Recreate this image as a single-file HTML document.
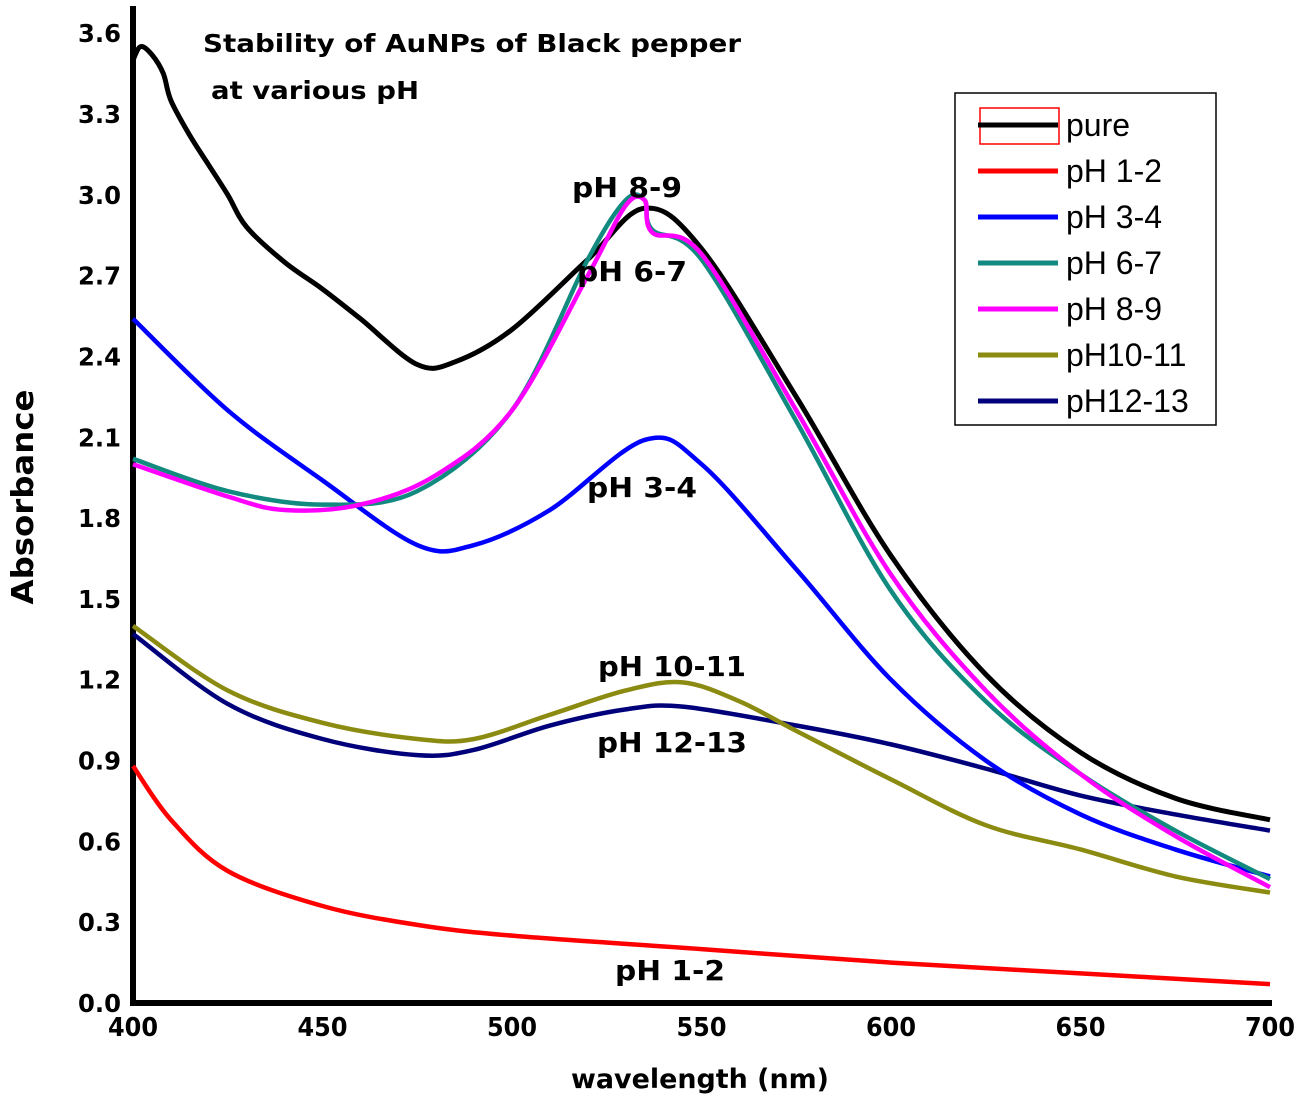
<!DOCTYPE html>
<html><head><meta charset="utf-8"><style>
body{margin:0;background:#fff;}
svg text{font-family:"DejaVu Sans","Liberation Sans",sans-serif;font-weight:bold;}
</style></head><body>
<svg id="chart" width="1300" height="1101" viewBox="0 0 1300 1101" xmlns="http://www.w3.org/2000/svg">
<g id="axes"></g><g id="series"></g><g id="ann"></g><g id="legend"></g>
</svg>
<script>
const xTicks=[400,450,500,550,600,650,700];
const yTicks=[0.0,0.3,0.6,0.9,1.2,1.5,1.8,2.1,2.4,2.7,3.0,3.3,3.6];
const seriesNames=["pure","pH 1-2","pH 3-4","pH 6-7","pH 8-9","pH10-11","pH12-13"];
const seriesColors=["#000000","#ff0000","#0000ff","#138a80","#ff00ff","#8b8b12","#00007a"];
const pureX=[400,402,405,408,410,415,420,425,430,440,450,460,475,485,500,520,535,550,575,600,625,650,675,700];
const pureY=[3.50,3.55,3.52,3.45,3.35,3.22,3.11,3.00,2.88,2.75,2.65,2.54,2.37,2.38,2.50,2.76,2.95,2.80,2.25,1.66,1.22,0.93,0.76,0.68];
const ph12X=[400,410,425,450,475,500,550,600,650,700];
const ph12Y=[0.88,0.68,0.49,0.36,0.29,0.25,0.20,0.15,0.11,0.07];
const ph34X=[400,425,450,475,490,510,535,550,575,600,625,650,675,700];
const ph34Y=[2.54,2.20,1.94,1.70,1.70,1.83,2.09,2.00,1.61,1.20,0.90,0.70,0.57,0.47];
const ph67X=[400,425,450,475,500,520,530,535,537,550,575,600,625,650,675,700];
const ph67Y=[2.02,1.90,1.85,1.90,2.20,2.76,2.98,2.98,2.87,2.76,2.16,1.53,1.12,0.85,0.64,0.46];
const ph89X=[400,425,440,460,480,500,520,530,535,537,550,575,600,625,650,675,700];
const ph89Y=[2.00,1.88,1.83,1.85,1.96,2.20,2.70,2.96,2.98,2.86,2.78,2.20,1.59,1.16,0.85,0.62,0.43];
const ph1011X=[400,425,450,475,490,510,530,545,560,575,600,625,650,675,700];
const ph1011Y=[1.40,1.16,1.04,0.98,0.98,1.07,1.16,1.19,1.12,1.01,0.83,0.66,0.57,0.47,0.41];
const ph1213X=[400,425,450,475,490,510,530,545,575,600,625,650,675,700];
const ph1213Y=[1.37,1.11,0.98,0.92,0.94,1.03,1.09,1.10,1.03,0.96,0.87,0.77,0.70,0.64];

const X0=133,X1=1270,Y0=1003;
const xs=v=>X0+(v-400)*(X1-X0)/300;
const ys=v=>Y0-v*269.4;
const NS="http://www.w3.org/2000/svg";
function mk(tag,attrs,parent){const e=document.createElementNS(NS,tag);for(const k in attrs)e.setAttribute(k,attrs[k]);parent.appendChild(e);return e;}
const axes=document.getElementById('axes');
let a=mk('path',{d:`M${X0} 6 L${X0} ${Y0} L1272 ${Y0}`,fill:'none',stroke:'#000','stroke-width':6},axes);


yTicks.forEach(v=>{const t=mk('text',{x:121,y:ys(v)+9,'text-anchor':'end','font-size':25,textLength:43,lengthAdjust:'spacingAndGlyphs'},axes);t.textContent=v.toFixed(1);

});
xTicks.forEach(v=>{const t=mk('text',{x:xs(v),y:1036,'text-anchor':'middle','font-size':26,textLength:50,lengthAdjust:'spacingAndGlyphs'},axes);t.textContent=v;

});
let t=mk('text',{x:700,y:1088,'text-anchor':'middle','font-size':27,textLength:258,lengthAdjust:'spacingAndGlyphs'},axes);t.textContent='wavelength (nm)';


t=mk('text',{x:0,y:0,'text-anchor':'middle','font-size':30,textLength:215,lengthAdjust:'spacingAndGlyphs',transform:'translate(33,497) rotate(-90)'},axes);t.textContent='Absorbance';


t=mk('text',{x:203,y:52,'font-size':25,textLength:538,lengthAdjust:'spacingAndGlyphs'},axes);t.textContent='Stability of AuNPs of Black pepper';


t=mk('text',{x:211,y:99,'font-size':25,textLength:208,lengthAdjust:'spacingAndGlyphs'},axes);t.textContent='at various pH';



function pathD(X,Y){const p=X.map((x,i)=>[xs(x),ys(Y[i])]);let d=`M${p[0][0]} ${p[0][1]}`;
for(let i=0;i<p.length-1;i++){const p0=p[Math.max(0,i-1)],p1=p[i],p2=p[i+1],p3=p[Math.min(p.length-1,i+2)];
const c1=[p1[0]+(p2[0]-p0[0])/6,p1[1]+(p2[1]-p0[1])/6],c2=[p2[0]-(p3[0]-p1[0])/6,p2[1]-(p3[1]-p1[1])/6];
d+=` C${c1[0]} ${c1[1]} ${c2[0]} ${c2[1]} ${p2[0]} ${p2[1]}`;}return d;}
const data=[[pureX,pureY],[ph12X,ph12Y],[ph34X,ph34Y],[ph67X,ph67Y],[ph89X,ph89Y],[ph1011X,ph1011Y],[ph1213X,ph1213Y]];
const order=[1,6,5,2,0,3,4];
const sg=document.getElementById('series');
order.forEach(i=>{const p=mk('path',{d:pathD(data[i][0],data[i][1]),fill:'none',stroke:seriesColors[i],'stroke-width':i==0?5:4.5,'stroke-linejoin':'round'},sg);

});

const annTexts=["pH 8-9","pH 6-7","pH 3-4","pH 10-11","pH 12-13","pH 1-2"];
const annX=[627,632,642,672,672,670];
const annY=[197,281,497,676,752,980];
const annW=[110,110,110,148,150,110];
const ag=document.getElementById('ann');
annTexts.forEach((s,i)=>{const e=mk('text',{x:annX[i],y:annY[i],'text-anchor':'middle','font-size':28,textLength:annW[i],lengthAdjust:'spacingAndGlyphs'},ag);e.textContent=s;

});

const lg=document.getElementById('legend');
const box=mk('rect',{x:955,y:93,width:261,height:332,fill:'#fff',stroke:'#000','stroke-width':1.5},lg);


const sel=mk('rect',{x:980,y:108,width:79,height:36,fill:'none',stroke:'#ff0000','stroke-width':1.5},lg);


seriesNames.forEach((n,i)=>{const y=125+i*46;
const g=mk('g',{},lg);


mk('line',{x1:978,y1:y,x2:1058,y2:y,stroke:seriesColors[i],'stroke-width':5},g);
const e=mk('text',{x:1066,y:y+11,'font-size':32,style:'font-weight:normal;font-family:Liberation Sans,sans-serif'},g);e.textContent=n;});
</script>
</body></html>
